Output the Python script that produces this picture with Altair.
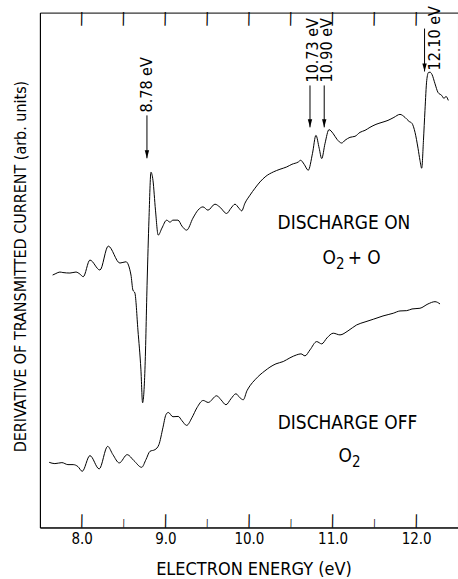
import altair as alt
import pandas as pd

# ---------------- data (energy in eV, derivative in arbitrary units) ----------------
on_E = [7.652, 7.691, 7.739, 7.775, 7.859, 7.931, 7.978, 8.018, 8.098, 8.218, 8.317, 8.457,
        8.529, 8.589, 8.612, 8.636, 8.672, 8.708, 8.728, 8.756, 8.783, 8.804, 8.828, 8.852,
        8.882, 8.915, 8.959, 9.016, 9.055, 9.091, 9.151, 9.199, 9.255, 9.330, 9.390, 9.450,
        9.510, 9.593, 9.653, 9.733, 9.785, 9.833, 9.880, 9.913, 9.952, 10.012, 10.072, 10.132,
        10.203, 10.291, 10.371, 10.451, 10.514, 10.590, 10.618, 10.660, 10.709, 10.760, 10.801,
        10.840, 10.870, 10.910, 10.957, 11.005, 11.053, 11.109, 11.148, 11.208, 11.268, 11.328,
        11.388, 11.447, 11.519, 11.591, 11.663, 11.734, 11.806, 11.866, 11.914, 11.950, 11.986,
        12.022, 12.045, 12.066, 12.087, 12.105, 12.126, 12.147, 12.165, 12.189, 12.225, 12.261,
        12.305, 12.333, 12.356, 12.384]
on_V = [253, 254.5, 256, 255.5, 255, 256, 254, 251.3, 268, 258, 282, 265,
        266.3, 253, 238, 235, 198, 158, 125, 158, 248, 308, 356, 348,
        318, 293, 300, 308, 306, 308, 308, 302, 298, 310, 318, 321.3,
        318, 324, 321, 314.7, 320, 324, 320, 317.3, 325, 333, 340, 346.3,
        352, 356.3, 359, 361.3, 364, 366.3, 368, 364, 358, 375, 393,
        380, 369.7, 385, 398.7, 395, 389, 385.3, 388, 391, 392, 396,
        398, 401, 404, 406, 408, 411, 414, 411, 407, 405, 396,
        380, 368, 360, 388, 418, 448, 456, 456.3, 454, 444.7, 436,
        433, 430, 432, 428]

off_E = [7.611, 7.679, 7.763, 7.835, 7.898, 7.955, 8.006, 8.098, 8.209, 8.310, 8.373, 8.449,
         8.544, 8.624, 8.717, 8.768, 8.816, 8.876, 8.923, 8.971, 9.007, 9.035, 9.091, 9.154,
         9.199, 9.255, 9.318, 9.378, 9.453, 9.513, 9.614, 9.665, 9.725, 9.785, 9.844, 9.892,
         9.932, 9.976, 10.012, 10.072, 10.132, 10.191, 10.251, 10.323, 10.410, 10.490, 10.571,
         10.622, 10.670, 10.730, 10.810, 10.870, 10.933, 11.008, 11.089, 11.184, 11.288, 11.388,
         11.487, 11.603, 11.726, 11.806, 11.887, 11.950, 12.045, 12.141, 12.225, 12.285]
off_V = [65.3, 64, 65, 63, 63, 61, 56.3, 72, 58.7, 81.3, 73, 64.7,
         73, 67, 60.3, 68, 76.3, 78, 83, 100, 113, 115.3, 111, 111.3,
         107, 102.3, 110, 120, 127.3, 125.3, 132, 128, 123, 129, 134, 130,
         128, 137, 142, 148, 153, 157, 160.7, 164, 166.3, 170, 173,
         174, 172, 178, 186.3, 184, 190, 194.7, 193, 197, 203, 206,
         208.7, 212, 214.7, 217, 217.3, 219, 219.7, 224, 226.3, 224]

major_ticks = [8.0, 9.0, 10.0, 11.0, 12.0]
minor_ticks = [8.5, 9.5, 10.5, 11.5]
top_ticks = [8.0, 8.5, 9.0, 9.5, 10.0, 10.5, 11.0, 11.5, 12.0]

arrow_E = [8.78, 10.73, 10.90, 12.10]
arrow_top = [413, 443, 443, 500]
arrow_tip = [370, 401, 401, 457]
peak_labels = ["8.78 eV", "10.73 eV", "10.90 eV", "12.10 eV"]
peak_label_E = [8.78, 10.765, 10.93, 12.225]
peak_label_V = [416, 446, 446, 458]

cond_text = ["DISCHARGE ON", "DISCHARGE OFF"]
cond_E = [11.136, 11.178]
cond_V = [299, 99]

# gas labels: O, subscript 2, "+ O"
gas_text = ["O", "2", "+ O", "O", "2"]
gas_E = [11.041, 11.041, 11.18, 11.232, 11.232]
gas_V = [264, 259, 264, 66, 61]
gas_kind = ["O", "sub", "plus", "O", "sub"]

# ---------------- chart ----------------
FONT = "DejaVu Sans Condensed"
XDOM = [7.5, 12.5]
YDOM = [0, 516]
XSCALE = alt.Scale(domain=XDOM, nice=False, zero=False)
YSCALE = alt.Scale(domain=YDOM, nice=False, zero=False)

xaxis = alt.Axis(values=major_ticks, format=".1f", ticks=False, grid=False,
                 domain=True, domainColor="black", domainWidth=1,
                 labelFont=FONT, labelFontSize=15, labelColor="black", labelPadding=4,
                 labelFlush=False,
                 title="ELECTRON ENERGY (eV)", titleFont=FONT, titleFontSize=18,
                 titleFontWeight="normal", titleColor="black",
                 titleX=214, titleY=47, titleBaseline="alphabetic")
yaxis = alt.Axis(ticks=False, labels=False, grid=False, domain=True,
                 domainColor="black", domainWidth=1,
                 title="DERIVATIVE OF TRANSMITTED CURRENT (arb. units)", titleFont=FONT,
                 titleFontSize=16, titleFontWeight="normal", titleColor="black",
                 titleX=-19, titleY=254, titleBaseline="middle", titleAngle=270)


def X(field):
    return alt.X(f"{field}:Q", scale=XSCALE, axis=xaxis)


def Y(field):
    return alt.Y(f"{field}:Q", scale=YSCALE, axis=yaxis)


curves = pd.DataFrame({
    "E": on_E + off_E,
    "V": on_V + off_V,
    "series": ["on"] * len(on_E) + ["off"] * len(off_E),
})

lines = alt.Chart(curves).mark_line(color="black", strokeWidth=1, interpolate="monotone").encode(
    x=X("E"), y=Y("V"), detail="series:N")

# inward tick marks drawn as thin vertical bar glyphs anchored on the frame edges
TICK = "|"
top_tk = alt.Chart(pd.DataFrame({"t": top_ticks, "c": YDOM[1], "s": TICK})).mark_text(
    baseline="top", align="center", font="DejaVu Sans", fontSize=14, color="black",
    angle=1, dy=-1).encode(x=X("t"), y=Y("c"), text="s:N")
maj_tk = alt.Chart(pd.DataFrame({"t": major_ticks, "c": YDOM[0], "s": TICK})).mark_text(
    baseline="bottom", align="center", font="DejaVu Sans", fontSize=13.5, color="black",
    angle=1, dy=0).encode(x=X("t"), y=Y("c"), text="s:N")
min_tk = alt.Chart(pd.DataFrame({"t": minor_ticks, "c": YDOM[0], "s": TICK})).mark_text(
    baseline="bottom", align="center", font="DejaVu Sans", fontSize=8.5, color="black",
    angle=1, dy=0).encode(x=X("t"), y=Y("c"), text="s:N")

arrows_df = pd.DataFrame({"E": arrow_E, "top": arrow_top, "tip": arrow_tip})
arrow_lines = alt.Chart(arrows_df).mark_rule(color="black", strokeWidth=1).encode(
    x=X("E"), y=Y("top"), y2="tip:Q")
arrow_heads = alt.Chart(arrows_df).mark_point(
    shape="M-0.55,-1L0.55,-1L0,1Z", filled=True, color="black", opacity=1, size=64,
    yOffset=-4, strokeWidth=0).encode(x=X("E"), y=Y("tip"))

peak_df = pd.DataFrame({"E": peak_label_E, "V": peak_label_V, "txt": peak_labels})
peak_txt = alt.Chart(peak_df).mark_text(
    angle=270, align="left", baseline="middle", font=FONT, fontSize=16, color="black").encode(
    x=X("E"), y=Y("V"), text="txt:N")

cond_df = pd.DataFrame({"E": cond_E, "V": cond_V, "txt": cond_text})
cond_txt = alt.Chart(cond_df).mark_text(
    align="center", baseline="alphabetic", font=FONT, fontSize=19, color="black").encode(
    x=X("E"), y=Y("V"), text="txt:N")

gas_df = pd.DataFrame({"E": gas_E, "V": gas_V, "txt": gas_text, "kind": gas_kind})
gas_O = alt.Chart(gas_df).transform_filter(alt.datum.kind == "O").mark_text(
    align="right", baseline="alphabetic", font=FONT, fontSize=19, color="black").encode(
    x=X("E"), y=Y("V"), text="txt:N")
gas_plus = alt.Chart(gas_df).transform_filter(alt.datum.kind == "plus").mark_text(
    align="left", baseline="alphabetic", font=FONT, fontSize=19, color="black").encode(
    x=X("E"), y=Y("V"), text="txt:N")
gas_sub = alt.Chart(gas_df).transform_filter(alt.datum.kind == "sub").mark_text(
    align="left", baseline="alphabetic", font=FONT, fontSize=15, color="black").encode(
    x=X("E"), y=Y("V"), text="txt:N")

chart = alt.layer(
    lines, top_tk, maj_tk, min_tk, arrow_lines, arrow_heads,
    peak_txt, cond_txt, gas_O, gas_plus, gas_sub
).properties(
    width=419, height=516,
    autosize=alt.AutoSizeParams(type="none"),
    padding={"left": 40, "top": 12, "right": 0, "bottom": 51},
    background="white",
).configure_view(stroke="black", strokeWidth=1)

chart.save("out.html", embed_options={"renderer": "svg", "actions": False})
